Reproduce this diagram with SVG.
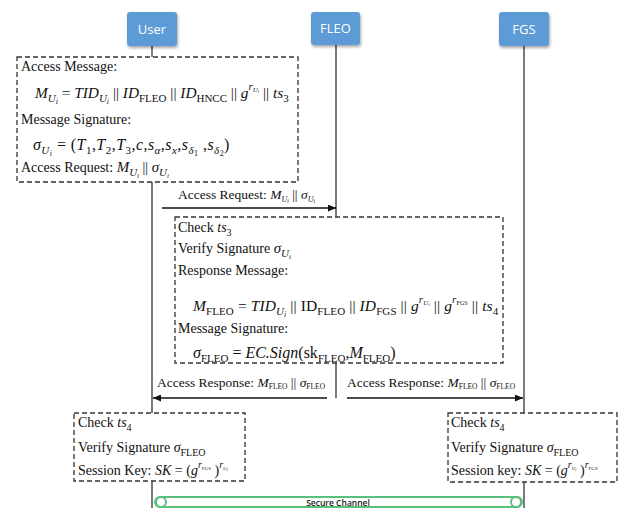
<svg xmlns="http://www.w3.org/2000/svg" width="624" height="508" viewBox="0 0 624 508">
  <defs>
    <style>
      .hdr { fill: #5b9bd5; }
      .hdrtxt { font-family: "Open Sans", "Liberation Sans", sans-serif; font-size: 13px; fill: #ffffff; text-anchor: middle; }
      .life { stroke: #333; stroke-width: 1.3; fill: none; }
      .box { fill: #ffffff; stroke: #333; stroke-width: 1.3; stroke-dasharray: 5 3; }
      .t { font-family: "Liberation Serif", "Times New Roman", serif; font-size: 14px; fill: #111; }
      .m { font-size: 16px; }
      .m2 { font-size: 15.3px; }
      .m3 { font-size: 15.5px; }
      .lbl { font-family: "Liberation Serif", "Times New Roman", serif; font-size: 13.5px; fill: #111; }
      .i { font-style: italic; }
      .s { font-size: 10px; }
      .m .s, .m2 .s, .m3 .s { font-size: 11px; }
      .ss { font-size: 7px; }
      .m .ss, .m2 .ss, .m3 .ss { font-size: 8px; }
      .msg { stroke: #111; stroke-width: 1.3; fill: none; marker-end: url(#ah); }
      .chan { fill: #ffffff; stroke: #5dbf7f; stroke-width: 2; }
      .chantxt { font-family: "Open Sans", "Liberation Sans", sans-serif; font-size: 8.5px; font-weight: 600; fill: #222; text-anchor: middle; }
    </style>
    <marker id="ah" markerWidth="8" markerHeight="7" refX="8" refY="3.5" orient="auto" markerUnits="userSpaceOnUse">
      <path d="M0,0 L8,3.5 L0,7 z" fill="#111"/>
    </marker>
    <filter id="shadow" x="-20%" y="-20%" width="150%" height="150%">
      <feGaussianBlur in="SourceAlpha" stdDeviation="1.5"/>
      <feOffset dx="1" dy="1.5" result="b"/>
      <feComponentTransfer><feFuncA type="linear" slope="0.35"/></feComponentTransfer>
      <feMerge><feMergeNode/><feMergeNode in="SourceGraphic"/></feMerge>
    </filter>
  </defs>

  <!-- lifelines -->
  <g id="lifelines">
    <line class="life" x1="152" y1="46" x2="152" y2="508"/>
    <line class="life" x1="336" y1="45" x2="336" y2="398"/>
    <line class="life" x1="524" y1="46" x2="524" y2="508"/>
  </g>

  <!-- participants -->
  <g id="user">
    <rect class="hdr" x="127" y="12" width="50" height="34" rx="3" filter="url(#shadow)"/>
    <text class="hdrtxt" x="152" y="34">User</text>
  </g>
  <g id="fleo">
    <rect class="hdr" x="311" y="12" width="49" height="33" rx="3" filter="url(#shadow)"/>
    <text class="hdrtxt" x="335.5" y="33">FLEO</text>
  </g>
  <g id="fgs">
    <rect class="hdr" x="499" y="12" width="50" height="34" rx="3" filter="url(#shadow)"/>
    <text class="hdrtxt" x="524" y="34">FGS</text>
  </g>

  <!-- user: access request construction -->
  <g id="user-request">
    <rect class="box" x="17" y="57" width="281" height="125"/>
    <text class="t" x="21" y="71">Access Message:</text>
    <text class="t m2" x="35" y="98"><tspan class="i">M</tspan><tspan class="i s" dy="4">U</tspan><tspan class="i ss" dy="2">i</tspan><tspan dy="-6"> = </tspan><tspan class="i">TID</tspan><tspan class="i s" dy="4">U</tspan><tspan class="i ss" dy="2">i</tspan><tspan dy="-6"> || </tspan><tspan class="i">ID</tspan><tspan class="s" dy="4">FLEO</tspan><tspan dy="-4"> || </tspan><tspan class="i">ID</tspan><tspan class="s" dy="4">HNCC</tspan><tspan dy="-4"> || </tspan><tspan class="i">g</tspan><tspan class="i s" dy="-8">r</tspan><tspan class="i" font-size="7" dy="2">U</tspan><tspan class="i" font-size="5" dy="1">i</tspan><tspan dy="5"> || </tspan><tspan class="i">ts</tspan><tspan class="s" dy="4">3</tspan></text>
    <text class="t" x="21" y="124">Message Signature:</text>
    <text class="t m" x="33" y="150" letter-spacing="0.45"><tspan class="i">σ</tspan><tspan class="i s" dy="4">U</tspan><tspan class="i ss" dy="2">i</tspan><tspan dy="-6"> = (</tspan><tspan class="i">T</tspan><tspan class="s" dy="4">1</tspan><tspan dy="-4">,</tspan><tspan class="i">T</tspan><tspan class="s" dy="4">2</tspan><tspan dy="-4">,</tspan><tspan class="i">T</tspan><tspan class="s" dy="4">3</tspan><tspan dy="-4">,</tspan><tspan class="i">c</tspan><tspan>,</tspan><tspan class="i">s</tspan><tspan class="i s" dy="4">α</tspan><tspan dy="-4">,</tspan><tspan class="i">s</tspan><tspan class="i s" dy="4">x</tspan><tspan dy="-4">,</tspan><tspan class="i">s</tspan><tspan class="i s" dy="4">δ</tspan><tspan class="ss" dy="2">1</tspan><tspan dy="-6"> ,</tspan><tspan class="i">s</tspan><tspan class="i s" dy="4">δ</tspan><tspan class="ss" dy="2">2</tspan><tspan dy="-6">)</tspan></text>
    <text class="t" x="21" y="172">Access Request: <tspan class="i" font-size="15">M</tspan><tspan class="i" font-size="11" dy="4">U</tspan><tspan class="i" font-size="7" dy="2">i</tspan><tspan dy="-6"> || </tspan><tspan class="i" font-size="15">σ</tspan><tspan class="i" font-size="11" dy="4">U</tspan><tspan class="i" font-size="7" dy="2">i</tspan></text>
  </g>

  <!-- FLEO: verification and response construction -->
  <g id="fleo-response">
    <rect class="box" x="175" y="217" width="328" height="146"/>
    <text class="t" x="178" y="232">Check <tspan class="i">ts</tspan><tspan class="s" dy="4">3</tspan></text>
    <text class="t" x="178" y="253">Verify Signature <tspan class="i" font-size="15">σ</tspan><tspan class="i" font-size="11" dy="4">U</tspan><tspan class="i" font-size="7" dy="2">i</tspan></text>
    <text class="t" x="178" y="275">Response Message:</text>
    <text class="t m3" x="193" y="311" letter-spacing="0.1"><tspan class="i">M</tspan><tspan class="s" dy="4">FLEO</tspan><tspan dy="-4"> = </tspan><tspan class="i">TID</tspan><tspan class="i s" dy="4">U</tspan><tspan class="i ss" dy="2">i</tspan><tspan dy="-6"> || ID</tspan><tspan class="s" dy="4">FLEO</tspan><tspan dy="-4"> || </tspan><tspan class="i">ID</tspan><tspan class="s" dy="4">FGS</tspan><tspan dy="-4"> || </tspan><tspan class="i">g</tspan><tspan class="i s" dy="-8">r</tspan><tspan class="i" font-size="7" dy="2">U</tspan><tspan class="i" font-size="5" dy="1">i</tspan><tspan dy="5"> || </tspan><tspan class="i">g</tspan><tspan class="i s" dy="-8">r</tspan><tspan font-size="6" dy="2">FGS</tspan><tspan dy="6"> || </tspan><tspan class="i">ts</tspan><tspan class="s" dy="4">4</tspan></text>
    <text class="t" x="178" y="333">Message Signature:</text>
    <text class="t m" x="193" y="358"><tspan class="i">σ</tspan><tspan class="s" dy="4">FLEO</tspan><tspan dy="-4"> = </tspan><tspan class="i">EC.Sign</tspan><tspan>(sk</tspan><tspan class="s" dy="4">FLEO</tspan><tspan dy="-4">,</tspan><tspan class="i">M</tspan><tspan class="s" dy="4">FLEO</tspan><tspan dy="-4">)</tspan></text>
  </g>

  <!-- user: response check and session key -->
  <g id="user-session">
    <rect class="box" x="74" y="413" width="171" height="68"/>
    <text class="t" x="78" y="427">Check <tspan class="i">ts</tspan><tspan class="s" dy="4">4</tspan></text>
    <text class="t" x="78" y="452">Verify Signature <tspan class="i">σ</tspan><tspan class="s" dy="4">FLEO</tspan></text>
    <text class="t" x="78" y="475">Session Key: <tspan class="i">SK</tspan> = (<tspan class="i">g</tspan><tspan class="i s" dy="-7">r</tspan><tspan font-size="5" dy="2">FGS</tspan><tspan dy="5"> )</tspan><tspan class="i s" dy="-7">r</tspan><tspan class="i" font-size="5" dy="2">U</tspan><tspan class="i" font-size="4" dy="1">i</tspan></text>
  </g>

  <!-- FGS: response check and session key -->
  <g id="fgs-session">
    <rect class="box" x="448" y="413" width="169" height="69"/>
    <text class="t" x="451" y="427">Check <tspan class="i">ts</tspan><tspan class="s" dy="4">4</tspan></text>
    <text class="t" x="451" y="452">Verify Signature <tspan class="i">σ</tspan><tspan class="s" dy="4">FLEO</tspan></text>
    <text class="t" x="451" y="475">Session key: <tspan class="i">SK</tspan> = (<tspan class="i">g</tspan><tspan class="i s" dy="-7">r</tspan><tspan class="i" font-size="5" dy="2">U</tspan><tspan class="i" font-size="4" dy="1">i</tspan><tspan dy="4"> )</tspan><tspan class="i s" dy="-7">r</tspan><tspan font-size="5" dy="2">FGS</tspan></text>
  </g>

  <!-- messages -->
  <g id="connectors">
    <line class="msg" x1="162" y1="208" x2="336" y2="208"/>
    <text class="lbl" x="178" y="199">Access Request: <tspan class="i">M</tspan><tspan class="i" font-size="8" dy="3">U</tspan><tspan class="i" font-size="5.5" dy="1">i</tspan><tspan dy="-4"> || </tspan><tspan class="i">σ</tspan><tspan class="i" font-size="8" dy="3">U</tspan><tspan class="i" font-size="5.5" dy="1">i</tspan></text>

    <line class="msg" x1="327" y1="398" x2="153" y2="398"/>
    <text class="lbl" x="157" y="387">Access Response: <tspan class="i">M</tspan><tspan font-size="7.5" dy="2">FLEO</tspan><tspan dy="-2"> || </tspan><tspan class="i">σ</tspan><tspan font-size="7.5" dy="2">FLEO</tspan></text>

    <line class="msg" x1="347" y1="398" x2="523" y2="398"/>
    <text class="lbl" x="347" y="387">Access Response: <tspan class="i">M</tspan><tspan font-size="7.5" dy="2">FLEO</tspan><tspan dy="-2"> || </tspan><tspan class="i">σ</tspan><tspan font-size="7.5" dy="2">FLEO</tspan></text>
  </g>

  <!-- secure channel between user and FGS -->
  <g id="secure-channel">
    <rect class="chan" x="155" y="497" width="367" height="10" rx="5"/>
    <circle class="chan" cx="161" cy="502" r="5"/>
    <circle class="chan" cx="516" cy="502" r="5"/>
    <text class="chantxt" x="338" y="506">Secure Channel</text>
  </g>
</svg>
